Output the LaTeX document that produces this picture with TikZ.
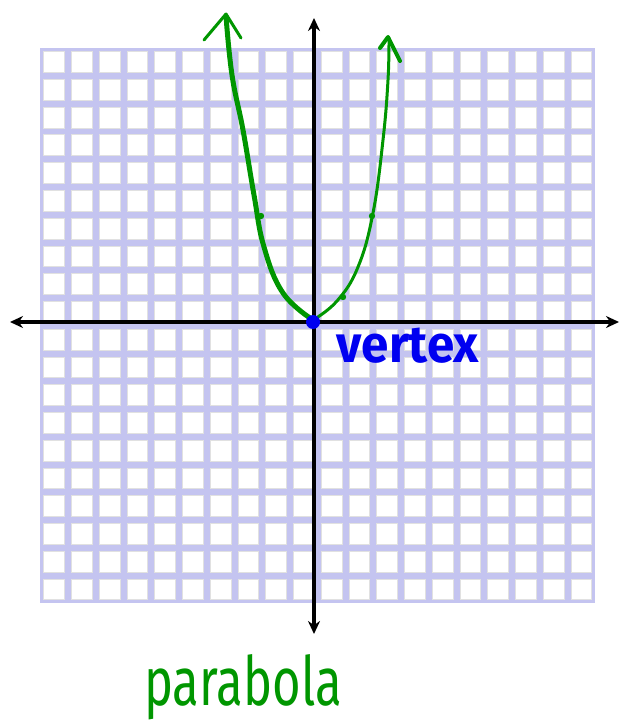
\documentclass[tikz,border=0pt]{standalone}
\usepackage{fontspec}
\setmainfont{Fira Sans}
\usepackage{xcolor}
\usepackage{tikz}
\usetikzlibrary{arrows.meta,positioning,calc}

\definecolor{gridlav}{RGB}{196,196,240}
\definecolor{cellrim}{RGB}{225,225,225}
\definecolor{curvegreen}{RGB}{0,150,0}
\definecolor{vertexblue}{RGB}{0,0,240}

\begin{document}
\begin{tikzpicture}[x=1pt, y=-1pt]
    \tikzstyle{cell} = [draw=cellrim, line width=0.7pt, fill=white]
    \tikzstyle{axis} = [line width=3.5pt, {Stealth[length=13pt,width=12pt]}-{Stealth[length=13pt,width=12pt]}]
    \tikzstyle{branch} = [curvegreen, line cap=round, line join=round]
    \tikzstyle{tickdot} = [curvegreen]
    \tikzstyle{handtext} = [inner sep=0pt, anchor=base]

    \useasboundingbox (0,0) rectangle (620,722);

    % Grid
    \fill[gridlav] (40,48) rectangle (595,603);
    \foreach \i in {0,...,19}
        \foreach \j in {0,...,19}
            \draw[cell] ({43.6+27.75*\i},{51.6+27.75*\j}) rectangle +(20.8,20.8);

    % Axes
    \coordinate (x_left) at (10,322);
    \coordinate (x_right) at (619,322);
    \coordinate (y_top) at (314,18);
    \coordinate (y_bottom) at (314,634);
    \coordinate (origin) at (313,322);
    \draw[axis] (x_left) -- (x_right);
    \draw[axis] (y_top) -- (y_bottom);

    % Parabola
    \draw[branch, line width=5pt] plot[smooth, tension=0.7] coordinates {(313,320) (283,293) (264,247) (254,195) (243,130) (232,75) (226,16)};
    \draw[branch, line width=3pt] plot[smooth, tension=0.7] coordinates {(313,320) (337,301) (358,267) (373,213) (383,140) (388,80) (389,38)};
    \draw[branch, line width=3pt] (204,40) -- (226,14) -- (241,38);
    \draw[branch, line width=4pt] (380,48) -- (388,37) -- (400,61);
    \fill[tickdot] (261,216) circle (3.2);
    \fill[tickdot] (343,297) circle (3.2);
    \fill[tickdot] (372,216) circle (3.2);

    % Nodes
    \node [circle, fill=vertexblue, minimum size=14pt, inner sep=0pt] (vertex_dot) at (origin) {};
    \node [handtext, text=vertexblue, font=\fontsize{52}{52}\selectfont\bfseries] (vertex_label) at (408,362) {\scalebox{0.95}[1]{vertex}};
    \node [handtext, text=curvegreen, font=\fontsize{68}{68}\selectfont] (parabola_label) at (243,705) {\scalebox{0.72}[1]{parabola}};
\end{tikzpicture}
\end{document}
